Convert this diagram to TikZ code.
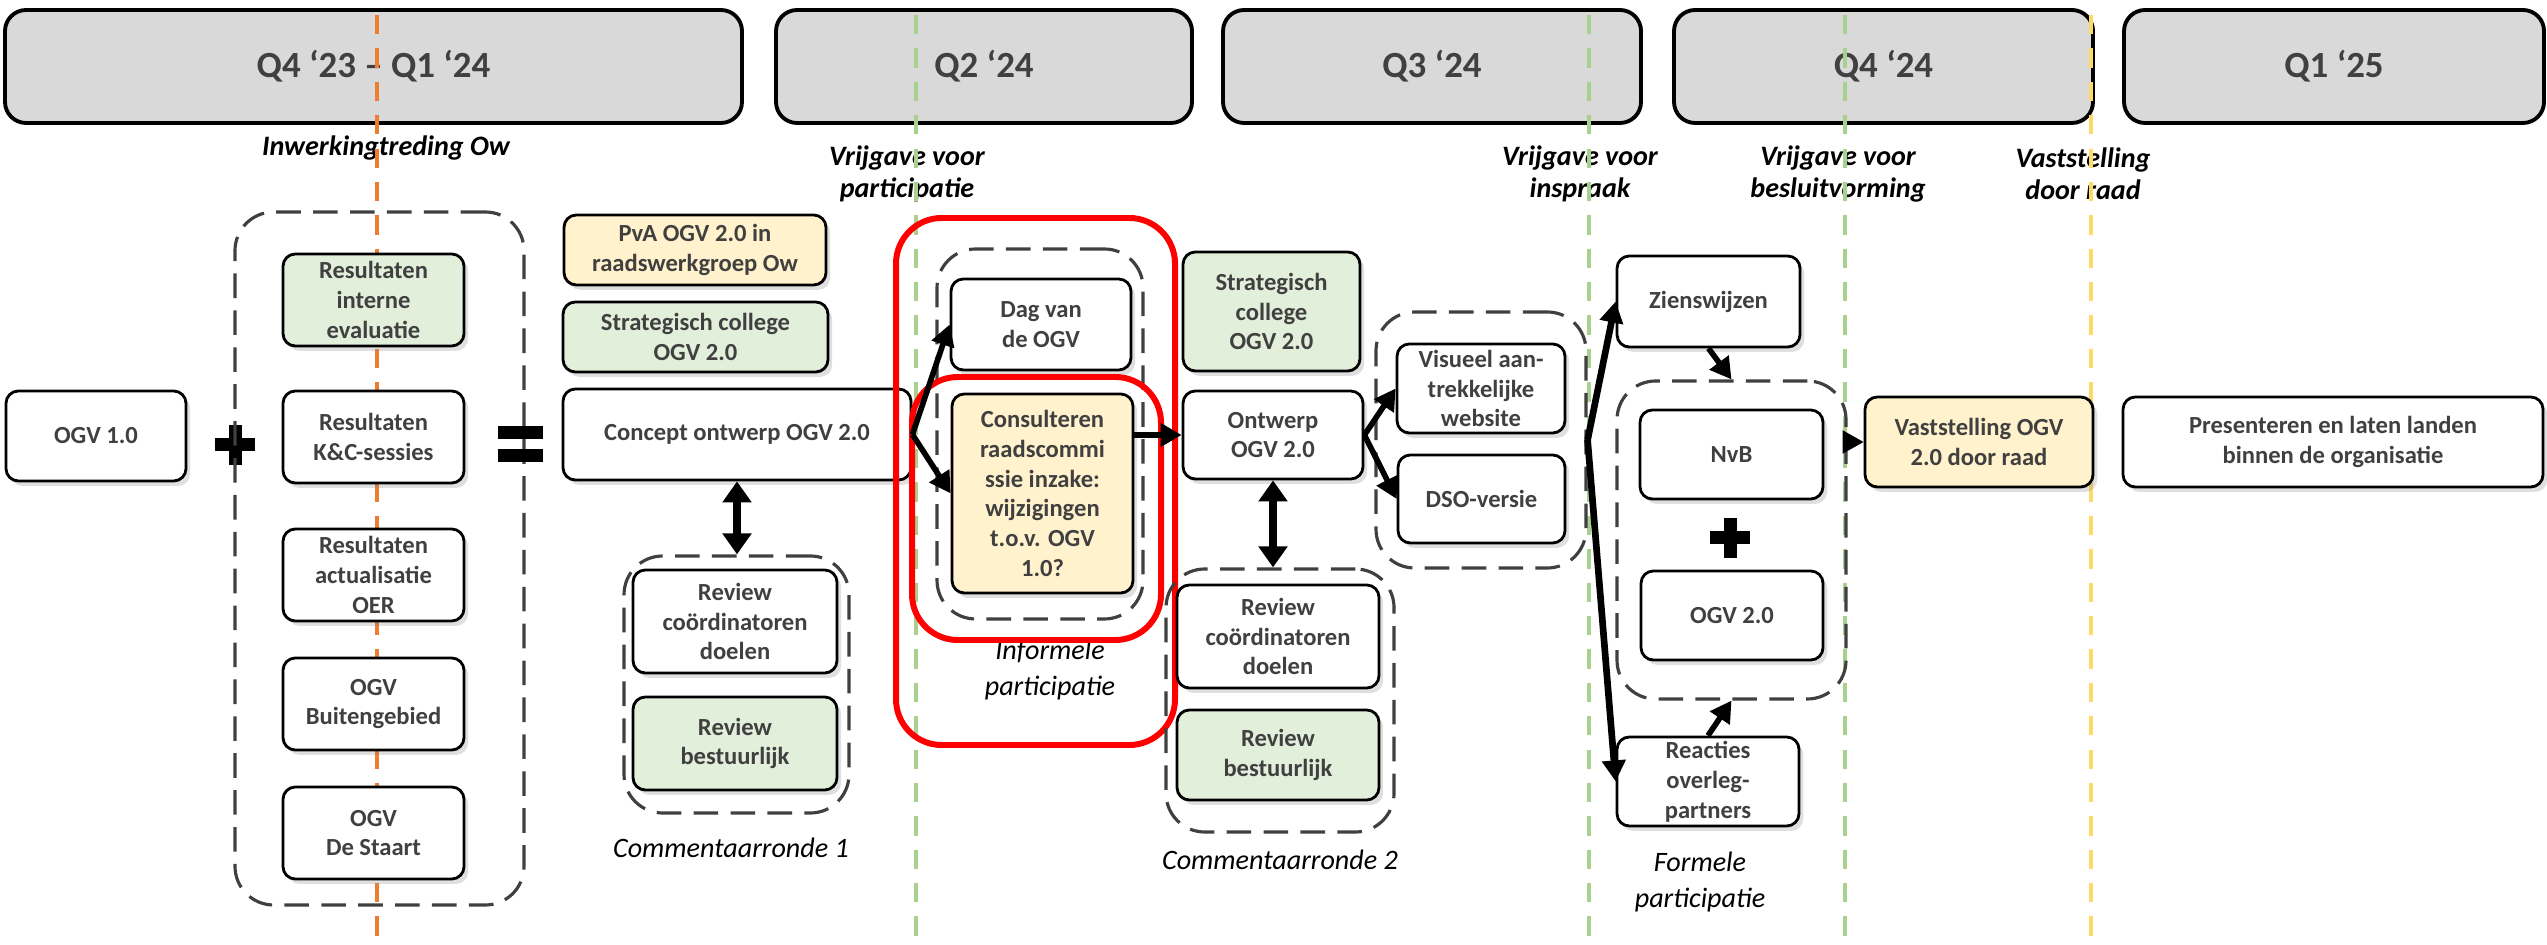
\documentclass[tikz,border=0pt]{standalone}
\usepackage{fontspec}
\setmainfont{Carlito}
\usepackage{tikz}
\usetikzlibrary{arrows.meta,shadows}
\definecolor{txtgray}{HTML}{404040}
\definecolor{hdrgray}{HTML}{D9D9D9}
\definecolor{boxgreen}{HTML}{E2EFDA}
\definecolor{boxyellow}{HTML}{FFF2CC}
\definecolor{lineorange}{HTML}{ED7D31}
\definecolor{linegreen}{HTML}{A9D18E}
\definecolor{lineyellow}{HTML}{FFD966}
\tikzset{plussign/.pic={\fill (-0.2,-0.065) rectangle (0.2,0.065);
  \fill (-0.065,-0.2) rectangle (0.065,0.2);}}

\begin{document}
\begin{tikzpicture}[>={Triangle[length=6pt,width=6.5pt]},
  box/.style={draw,line width=0.8pt,rounded corners=3.5pt,fill=white,text=txtgray,align=center,inner sep=1pt,
    font=\fontsize{7}{8.5}\selectfont\bfseries,
    drop shadow={shadow xshift=1.2pt,shadow yshift=-1.4pt,opacity=0.25}},
  gbox/.style={box,fill=boxgreen},
  ybox/.style={box,fill=boxyellow},
  quarter/.style={draw,line width=1.1pt,rounded corners=6pt,fill=hdrgray,text=txtgray,
    font=\fontsize{10.5}{12}\selectfont\bfseries,minimum height=1.13cm},
  grp/.style={draw=txtgray,line width=0.9pt,dash pattern=on 7pt off 3.5pt,rounded corners=11pt},
  redgrp/.style={draw=red,line width=1.7pt,rounded corners=13pt},
  mile/.style={font=\fontsize{8}{9.1}\selectfont\bfseries\itshape,align=center},
  phase/.style={font=\fontsize{8}{10}\selectfont\itshape,align=center},
  tline/.style={line width=1.2pt,dash pattern=on 5.5pt off 4pt},
  flow/.style={->,line width=1.6pt},
  dflow/.style={{Triangle[length=6pt,width=8pt]}-{Triangle[length=6pt,width=8pt]},line width=2.4pt}]
\useasboundingbox (0,0) rectangle (25.47,-9.45);

% kwartalen
\node[quarter,minimum width=7.37cm] (q1) at (3.735,-0.665) {Q4 ‘23 – Q1 ‘24};
\node[quarter,minimum width=4.16cm] (q2) at (9.84,-0.665) {Q2 ‘24};
\node[quarter,minimum width=4.18cm] (q3) at (14.32,-0.665) {Q3 ‘24};
\node[quarter,minimum width=4.19cm] (q4) at (18.835,-0.665) {Q4 ‘24};
\node[quarter,minimum width=4.20cm] (q5) at (23.34,-0.665) {Q1 ‘25};

% mijlpalen
\node[mile] (ow) at (3.86,-1.48) {Inwerkingtreding Ow};
\node[mile] (vp) at (9.07,-1.74) {Vrijgave voor\\participatie};
\node[mile] (vi) at (15.80,-1.74) {Vrijgave voor\\inspraak};
\node[mile] (vb) at (18.38,-1.74) {Vrijgave voor\\besluitvorming};
\node[mile] (vr) at (20.83,-1.74) {Vaststelling\\door raad};
\foreach \x/\c in {3.77/lineorange,9.16/linegreen,15.89/linegreen,18.45/linegreen,20.91/lineyellow}
  \draw[tline,\c] (\x,-0.15)--(\x,-9.45);

% vertrekpunt
\node[box,minimum width=1.80cm,minimum height=0.90cm] (ogv1) at (0.96,-4.36) {OGV 1.0};
\pic at (2.35,-4.45) {plussign};
\node[grp,minimum width=2.89cm,minimum height=6.93cm] (g1) at (3.795,-5.585) {};
\node[gbox,minimum width=1.81cm,minimum height=0.92cm] (resint) at (3.735,-3.00) {Resultaten\\interne\\evaluatie};
\node[box,minimum width=1.81cm,minimum height=0.92cm] (reskc) at (3.735,-4.37) {Resultaten\\K\&C-sessies};
\node[box,minimum width=1.81cm,minimum height=0.92cm] (resoer) at (3.735,-5.75) {Resultaten\\actualisatie\\OER};
\node[box,minimum width=1.81cm,minimum height=0.92cm] (buiten) at (3.735,-7.04) {OGV\\Buitengebied};
\node[box,minimum width=1.81cm,minimum height=0.92cm] (staart) at (3.735,-8.33) {OGV\\De Staart};
\fill (4.98,-4.26) rectangle (5.43,-4.39);
\fill (4.98,-4.49) rectangle (5.43,-4.62);

% concept en commentaarronde 1
\node[ybox,minimum width=2.62cm,minimum height=0.70cm] (pva) at (6.95,-2.50) {PvA OGV 2.0 in\\raadswerkgroep Ow};
\node[gbox,minimum width=2.65cm,minimum height=0.70cm] (strat1) at (6.955,-3.37) {Strategisch college\\OGV 2.0};
\node[box,minimum width=3.48cm,minimum height=0.91cm] (concept) at (7.37,-4.345) {Concept ontwerp OGV 2.0};
\node[grp,minimum width=2.25cm,minimum height=2.57cm] (g2) at (7.365,-6.845) {};
\node[box,minimum width=2.04cm,minimum height=1.03cm] (revc1) at (7.35,-6.215) {Review\\coördinatoren\\doelen};
\node[gbox,minimum width=2.04cm,minimum height=0.93cm] (revb1) at (7.35,-7.435) {Review\\bestuurlijk};
\node[phase] (comm1) at (7.31,-8.48) {Commentaarronde 1};

% informele participatie
\node[phase] (inform) at (10.50,-6.70) {Informele\\participatie};
\node[grp,minimum width=2.06cm,minimum height=3.70cm] (g3) at (10.40,-4.34) {};
\node[box,minimum width=1.80cm,minimum height=0.91cm] (dag) at (10.41,-3.245) {Dag van\\de OGV};
\node[ybox,minimum width=1.81cm,minimum height=1.99cm] (cons) at (10.425,-4.935) {Consulteren\\raadscommi\\ssie inzake:\\wijzigingen\\t.o.v. OGV\\1.0?};
\node[redgrp,minimum width=2.49cm,minimum height=2.63cm] (redin) at (10.365,-5.085) {};
\node[redgrp,minimum width=2.79cm,minimum height=5.27cm] (redout) at (10.355,-4.815) {};

% ontwerp en commentaarronde 2
\node[gbox,minimum width=1.77cm,minimum height=1.19cm] (strat2) at (12.715,-3.115) {Strategisch\\college\\OGV 2.0};
\node[box,minimum width=1.80cm,minimum height=0.88cm] (ontwerp) at (12.73,-4.35) {Ontwerp\\OGV 2.0};
\node[grp,minimum width=2.28cm,minimum height=2.63cm] (g4) at (12.80,-7.005) {};
\node[box,minimum width=2.02cm,minimum height=1.03cm] (revc2) at (12.78,-6.365) {Review\\coördinatoren\\doelen};
\node[gbox,minimum width=2.02cm,minimum height=0.90cm] (revb2) at (12.78,-7.55) {Review\\bestuurlijk};
\node[phase] (comm2) at (12.80,-8.60) {Commentaarronde 2};
\node[grp,minimum width=2.10cm,minimum height=2.56cm] (g5) at (14.81,-4.40) {};
\node[box,minimum width=1.68cm,minimum height=0.89cm] (visueel) at (14.81,-3.885) {Visueel aan-\\trekkelijke\\website};
\node[box,minimum width=1.67cm,minimum height=0.88cm] (dso) at (14.815,-4.99) {DSO-versie};

% formele participatie
\node[box,minimum width=1.83cm,minimum height=0.91cm] (zien) at (17.085,-3.015) {Zienswijzen};
\node[grp,minimum width=2.29cm,minimum height=3.18cm] (g6) at (17.315,-5.40) {};
\node[box,minimum width=1.83cm,minimum height=0.89cm] (nvb) at (17.315,-4.545) {NvB};
\pic at (17.30,-5.38) {plussign};
\node[box,minimum width=1.82cm,minimum height=0.89cm] (ogv2) at (17.32,-6.155) {OGV 2.0};
\node[box,minimum width=1.82cm,minimum height=0.89cm] (reac) at (17.08,-7.815) {Reacties\\overleg-\\partners};
\node[phase] (formeel) at (17.00,-8.82) {Formele\\participatie};

% besluit
\node[ybox,minimum width=2.28cm,minimum height=0.90cm] (vast) at (19.79,-4.42) {Vaststelling OGV\\2.0 door raad};
\node[box,minimum width=4.20cm,minimum height=0.90cm] (pres) at (23.33,-4.42) {Presenteren en laten landen\\binnen de organisatie};

% pijlen
\draw[flow] (concept.east)--(dag.west);
\draw[flow] (concept.east)--(cons.west);
\draw[flow] (cons.east |- ontwerp.west)--(ontwerp.west);
\draw[dflow] (concept.south)--(concept.south |- g2.north);
\draw[dflow] (ontwerp.south)--(ontwerp.south |- g4.north);
\draw[flow] (ontwerp.east)--(visueel.west);
\draw[flow] (ontwerp.east)--(dso.west);
\draw[flow,line width=1.9pt] (g5.east)--(zien.west);
\draw[flow,line width=1.9pt] (g5.east)--(reac.west);
\draw[flow] (zien.south)--(g6.north);
\draw[flow] (reac.north)--(g6.south);
\draw[->,line width=0.8pt] (g6.east |- vast.west)--(vast.west);
\end{tikzpicture}
\end{document}
